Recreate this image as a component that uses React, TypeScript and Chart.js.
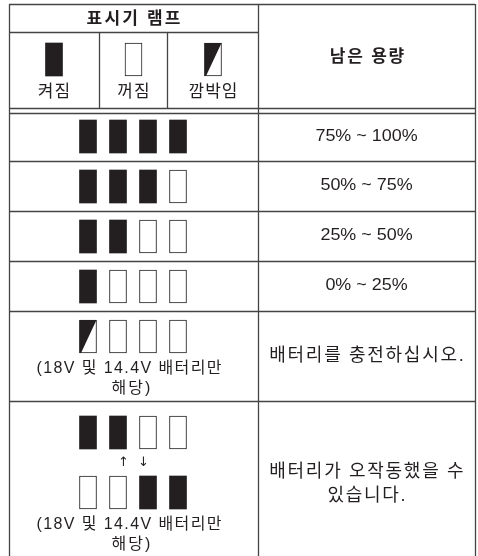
import React, { useEffect, useRef } from "react";
import { Chart, registerables } from "chart.js";

Chart.register(...registerables);

// ---- content ----
const headerTitle = "표시기 램프";
const capacityTitle = "남은 용량";
const legendLabels = ["켜짐", "꺼짐", "깜박임"];
const legendStates = [1, 0, 2]; // 1 = on, 0 = off, 2 = blinking
const levelRows = [
  [1, 1, 1, 1],
  [1, 1, 1, 0],
  [1, 1, 0, 0],
  [1, 0, 0, 0],
  [2, 0, 0, 0],
];
const levelLabels = ["75% ~ 100%", "50% ~ 75%", "25% ~ 50%", "0% ~ 25%"];
const chargeLabel = "배터리를 충전하십시오.";
const faultRows = [
  [1, 1, 0, 0],
  [0, 0, 1, 1],
];
const faultLabel = ["배터리가 오작동했을 수", "있습니다."];
const noteLines = ["(18V 및 14.4V 배터리만", "해당)"];
const arrowSymbols = ["↑", "↓"];

// ---- layout ----
const W = 478;
const H = 556;
const TL = 9, TR = 475, TT = 4, TB = 556;
const COL = 258;
const SUB = [99, 167];
const HEAD_TITLE_Y = 32;
const HEAD_BOT = [108, 113];
const ROW_LINES = [161, 211, 261, 311, 401];
const LAMP_X = [88, 118, 148, 178];
const LAMP_W = 17, LAMP_H = 33;
const LEVEL_LAMP_TOP = [120, 170, 220, 270, 320];
const FAULT_LAMP_TOP = [416, 476];
const LEGEND_X = [54, 133.5, 213];
const LEGEND_LAMP_TOP = 43;
const INK = "#231f20";
const LINE = "#444444";

function buildLamps() {
  const sets: Record<number, { x: number; y: [number, number] }[]> = { 0: [], 1: [], 2: [] };
  legendStates.forEach((s, i) => sets[s].push({ x: LEGEND_X[i], y: [LEGEND_LAMP_TOP, LEGEND_LAMP_TOP + LAMP_H] }));
  levelRows.forEach((row, r) =>
    row.forEach((s, c) => sets[s].push({ x: LAMP_X[c], y: [LEVEL_LAMP_TOP[r], LEVEL_LAMP_TOP[r] + LAMP_H] }))
  );
  faultRows.forEach((row, r) =>
    row.forEach((s, c) => sets[s].push({ x: LAMP_X[c], y: [FAULT_LAMP_TOP[r], FAULT_LAMP_TOP[r] + LAMP_H] }))
  );
  return sets;
}

const FONT = '"Liberation Sans", Arial, "Noto Sans CJK KR", sans-serif';

function drawText(
  ctx: CanvasRenderingContext2D,
  s: string,
  x: number,
  y: number,
  size: number,
  opts: { bold?: boolean; sx?: number; ls?: number; family?: string } = {}
) {
  const { bold = false, sx = 1, ls = 0, family = FONT } = opts;
  ctx.save();
  ctx.font = `${bold ? "bold " : ""}${size}px ${family}`;
  (ctx as any).letterSpacing = `${ls}px`;
  ctx.fillStyle = INK;
  ctx.textAlign = "center";
  ctx.textBaseline = "middle";
  ctx.translate(x + ls / 2, y);
  ctx.scale(sx, 1);
  ctx.fillText(s, 0, 0);
  ctx.restore();
}

const tablePlugin = {
  id: "tablePlugin",
  afterDatasetsDraw(chart: any) {
    const ctx: CanvasRenderingContext2D = chart.ctx;
    const xs = chart.scales.x;
    const ys = chart.scales.y;
    const px = (v: number) => xs.getPixelForValue(v);
    const py = (v: number) => ys.getPixelForValue(v);

    // blinking lamps: dark upper-left triangle
    const blinkMeta = chart.getDatasetMeta(2);
    blinkMeta.data.forEach((el: any) => {
      const { x, y, base, width } = el.getProps(["x", "y", "base", "width"], true);
      const top = Math.min(y, base), bot = Math.max(y, base);
      const l = x - width / 2, r = x + width / 2;
      ctx.save();
      ctx.fillStyle = INK;
      ctx.beginPath();
      ctx.moveTo(l, top);
      ctx.lineTo(r, top);
      ctx.lineTo(l + 1.5, bot);
      ctx.lineTo(l, bot);
      ctx.closePath();
      ctx.fill();
      ctx.restore();
    });

    // table lines
    ctx.save();
    ctx.strokeStyle = LINE;
    ctx.lineWidth = 1.3;
    const hl = (y: number, x1: number, x2: number) => {
      ctx.beginPath();
      ctx.moveTo(px(x1), py(y) + 0.5);
      ctx.lineTo(px(x2), py(y) + 0.5);
      ctx.stroke();
    };
    const vl = (x: number, y1: number, y2: number) => {
      ctx.beginPath();
      ctx.moveTo(px(x) + 0.5, py(y1));
      ctx.lineTo(px(x) + 0.5, py(y2));
      ctx.stroke();
    };
    hl(TT, TL, TR);
    vl(TL, TT, TB);
    vl(TR, TT, TB);
    vl(COL, TT, TB);
    hl(HEAD_TITLE_Y, TL, COL);
    SUB.forEach((x) => vl(x, HEAD_TITLE_Y, HEAD_BOT[0]));
    HEAD_BOT.forEach((y) => hl(y, TL, TR));
    ROW_LINES.forEach((y) => hl(y, TL, TR));
    ctx.restore();

    const midL = (TL + COL) / 2;
    const midR = (COL + TR) / 2;
    drawText(ctx, headerTitle, px(midL), py(19), 17, { bold: true, ls: 2.2 });
    drawText(ctx, capacityTitle, px(midR + 0.5), py(57), 17, { bold: true, ls: 1.8 });
    legendLabels.forEach((t, i) => drawText(ctx, t, px(LEGEND_X[i]), py(92), 17, { ls: 1 }));

    const rowTops = [HEAD_BOT[1], ...ROW_LINES];
    levelLabels.forEach((t, i) => {
      const cy = (rowTops[i] + rowTops[i + 1]) / 2;
      drawText(ctx, t, px(midR), py(cy), 16, { sx: 1.12 });
    });
    drawText(ctx, chargeLabel, px(midR), py(356), 18, { ls: 1.7 });
    // notes under blinking row and fault row
    drawText(ctx, noteLines[0], px(129), py(369), 16, { ls: 1.4 });
    drawText(ctx, noteLines[1], px(131), py(389), 16, { ls: 2 });
    drawText(ctx, noteLines[0], px(129), py(525), 16, { ls: 1.4 });
    drawText(ctx, noteLines[1], px(131), py(545), 16, { ls: 2 });
    drawText(ctx, faultLabel[0], px(midR), py(472), 18, { ls: 1.7 });
    drawText(ctx, faultLabel[1], px(midR), py(496), 18, { ls: 1.7 });
    // arrows between the two fault patterns
    drawText(ctx, arrowSymbols[0], px(123.5), py(463), 13, { family: '"DejaVu Sans", sans-serif' });
    drawText(ctx, arrowSymbols[1], px(143.5), py(463), 13, { family: '"DejaVu Sans", sans-serif' });
  },
};

export default function App() {
  const ref = useRef<HTMLCanvasElement | null>(null);
  useEffect(() => {
    if (!ref.current) return;
    const sets = buildLamps();
    const common = { grouped: false, barThickness: LAMP_W, borderSkipped: false as const };
    const chart = new Chart(ref.current, {
      type: "bar",
      data: {
        datasets: [
          { label: "off", data: sets[0] as any, backgroundColor: "#ffffff", borderColor: INK, borderWidth: 1, ...common },
          { label: "on", data: sets[1] as any, backgroundColor: INK, borderWidth: 0, ...common },
          { label: "blink", data: sets[2] as any, backgroundColor: "#ffffff", borderColor: INK, borderWidth: 1, ...common },
        ],
      },
      options: {
        animation: false,
        responsive: false,
        maintainAspectRatio: false,
        devicePixelRatio: 1,
        layout: { padding: 0 },
        plugins: { legend: { display: false }, tooltip: { enabled: false } },
        events: [],
        scales: {
          x: { type: "linear", min: 0, max: W, display: false, offset: false },
          y: { type: "linear", min: 0, max: H, reverse: true, display: false, offset: false },
        },
      },
      plugins: [tablePlugin],
    });
    return () => chart.destroy();
  }, []);
  return (
    <div style={{ position: "absolute", left: 0, top: 0, width: W, height: H, background: "#fff" }}>
      <canvas ref={ref} width={W} height={H} style={{ display: "block" }} />
    </div>
  );
}
